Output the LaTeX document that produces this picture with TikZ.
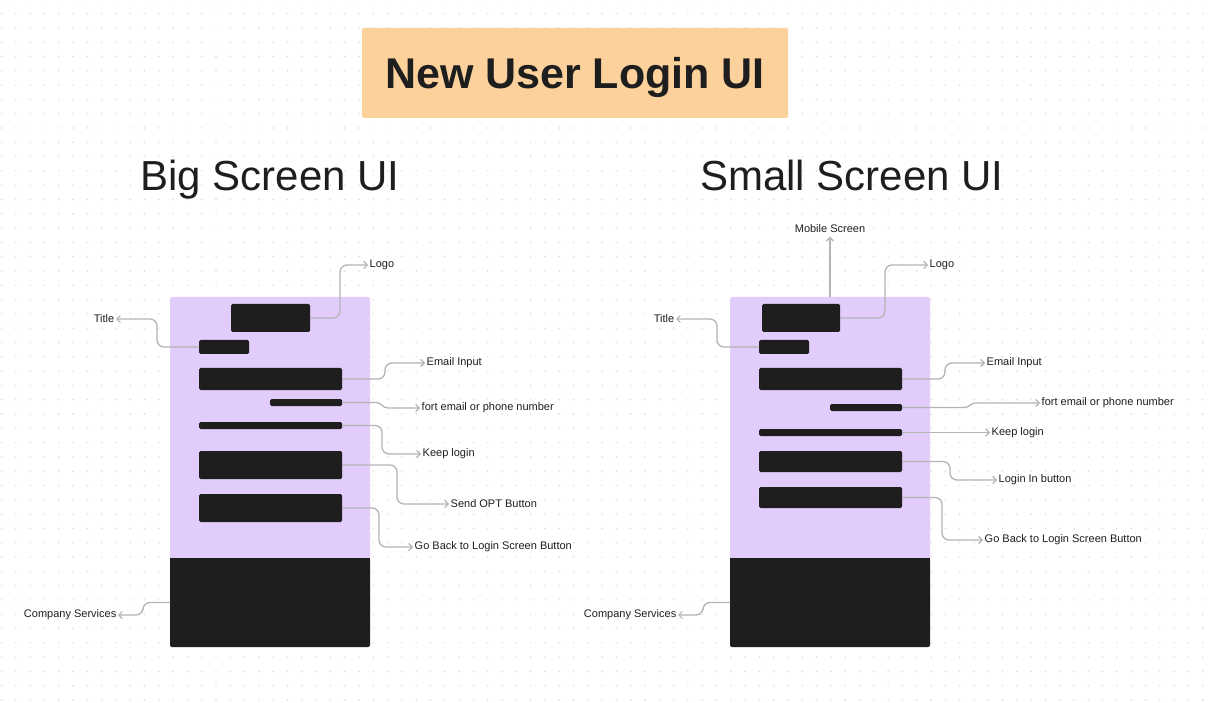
\documentclass[tikz,border=0pt]{standalone}
\usepackage{fontspec}
\setmainfont{Liberation Sans}
\usetikzlibrary{arrows.meta}
\definecolor{ink}{HTML}{1E1E1E}
\definecolor{peach}{HTML}{FCD19C}
\definecolor{lilac}{HTML}{E1CCFB}
\definecolor{wire}{HTML}{B4B4B4}
\definecolor{griddot}{HTML}{DADADA}
\tikzset{
  blk/.style={fill=ink, draw=none, rounded corners=1.5pt, inner sep=0pt, outer sep=0pt},
  panel/.style={fill=lilac, draw=none, inner sep=0pt, outer sep=0pt},
  foot/.style={fill=ink, draw=none, inner sep=0pt, outer sep=0pt},
  lbl/.style={font=\fontsize{11}{13}\selectfont, text=ink, inner sep=1.5pt},
  heading/.style={font=\fontsize{42}{48}\selectfont, text=ink, inner sep=0pt, anchor=base},
  wireline/.style={draw=wire, line width=1.3pt, rounded corners=7pt,
    -{Straight Barb[length=3.5pt,width=7pt,line width=1.2pt]}},
}
\begin{document}
\begin{tikzpicture}[x=1pt, y=-1pt]
\useasboundingbox (0,0) rectangle (1216,703);
\fill[white] (0,0) rectangle (1216,703);
% dotted canvas
\foreach \i in {0,...,85} {
  \foreach \j in {0,...,49} {
    \fill[griddot] ({1.5+14.3*\i},{13.6+14.3*(\j-1)}) circle (0.8);
  }
}

% banner
\node[fill=peach, rounded corners=2pt, minimum width=426, minimum height=90, inner sep=0pt] (banner) at (575,73) {};
\node[font=\fontsize{43}{50}\selectfont\bfseries, text=ink, inner sep=0pt, anchor=base] (bannerText) at (575,89) {New User Login UI};

% column headings
\node[heading] (hBig) at (270,191) {Big Screen UI};
\node[heading] (hSmall) at (852,191) {Small Screen UI};

% ---------------- big screen ----------------
\node[panel, minimum width=200, minimum height=262, rounded corners=2pt] (screenL) at (270,428) {};
\node[foot, minimum width=200, minimum height=89, rounded corners=2pt] (footL) at (270,602.5) {};
\fill[ink] (170,558) rectangle (370,570);

\node[blk, minimum width=79, minimum height=28] (logoL) at (270.5,318) {};
\node[blk, minimum width=50, minimum height=14] (titleL) at (224,347) {};
\node[blk, minimum width=143, minimum height=22] (emailL) at (270.5,379) {};
\node[blk, minimum width=72, minimum height=7] (fortL) at (306,402.5) {};
\node[blk, minimum width=143, minimum height=7] (keepL) at (270.5,425.5) {};
\node[blk, minimum width=143, minimum height=28] (sendL) at (270.5,465) {};
\node[blk, minimum width=143, minimum height=28] (backL) at (270.5,508) {};

\node[lbl, anchor=west] (tLogoL) at (368,265) {Logo};
\node[lbl, anchor=east] (tTitleL) at (116,319) {Title};
\node[lbl, anchor=west] (tEmailL) at (425,363) {Email Input};
\node[lbl, anchor=west] (tFortL) at (420,408) {fort email or phone number};
\node[lbl, anchor=west] (tKeepL) at (421,454) {Keep login};
\node[lbl, anchor=west] (tSendL) at (449,504) {Send OPT Button};
\node[lbl, anchor=west] (tBackL) at (413,547) {Go Back to Login Screen Button};
\node[lbl, anchor=east] (tCompL) at (118,615) {Company Services};

\draw[wireline] (logoL.east) -- ++(30,0) |- (tLogoL.west);
\draw[wireline] (titleL.west) -- ++(-42,0) |- (tTitleL.east);
\draw[wireline] (emailL.east) -- ++(43,0) |- (tEmailL.west);
\draw[wireline, sharp corners] (fortL.east) -- ++(34,0)
  .. controls +(6,0) and +(-6,0) .. ++(12,5.5) -- (tFortL.west);
\draw[wireline] (keepL.east) -- ++(40,0) |- (tKeepL.west);
\draw[wireline] (sendL.east) -- ++(55,0) |- (tSendL.west);
\draw[wireline] (backL.east) -- ++(37,0) |- (tBackL.west);
\draw[wireline] (footL.west) -- ++(-27,0) |- (tCompL.east);

% ---------------- small screen ----------------
\node[panel, minimum width=200, minimum height=262, rounded corners=2pt] (screenR) at (830,428) {};
\node[foot, minimum width=200, minimum height=89, rounded corners=2pt] (footR) at (830,602.5) {};
\fill[ink] (730,558) rectangle (930,570);

\node[blk, minimum width=78, minimum height=28] (logoR) at (801,318) {};
\node[blk, minimum width=50, minimum height=14] (titleR) at (784,347) {};
\node[blk, minimum width=143, minimum height=22] (emailR) at (830.5,379) {};
\node[blk, minimum width=72, minimum height=7] (fortR) at (866,407.5) {};
\node[blk, minimum width=143, minimum height=7] (keepR) at (830.5,432.5) {};
\node[blk, minimum width=143, minimum height=21] (loginR) at (830.5,461.5) {};
\node[blk, minimum width=143, minimum height=21] (backR) at (830.5,497.5) {};

\node[lbl] (tMobR) at (830,229) {Mobile Screen};
\node[lbl, anchor=west] (tLogoR) at (928,265) {Logo};
\node[lbl, anchor=east] (tTitleR) at (676,319) {Title};
\node[lbl, anchor=west] (tEmailR) at (985,363) {Email Input};
\node[lbl, anchor=west] (tFortR) at (1040,403) {fort email or phone number};
\node[lbl, anchor=west] (tKeepR) at (990,432.5) {Keep login};
\node[lbl, anchor=west] (tLoginR) at (997,480) {Login In button};
\node[lbl, anchor=west] (tBackR) at (983,540) {Go Back to Login Screen Button};
\node[lbl, anchor=east] (tCompR) at (678,615) {Company Services};

\draw[wireline] (screenR.north) -- ([yshift=-2pt]tMobR.south);
\draw[wireline] (logoR.east) -- ++(45,0) |- (tLogoR.west);
\draw[wireline] (titleR.west) -- ++(-42,0) |- (tTitleR.east);
\draw[wireline] (emailR.east) -- ++(43,0) |- (tEmailR.west);
\draw[wireline, sharp corners] (fortR.east) -- ++(62,0)
  .. controls +(6,0) and +(-6,0) .. ++(12,-4.5) -- (tFortR.west);
\draw[wireline] (keepR.east) -- (tKeepR.west);
\draw[wireline] (loginR.east) -- ++(48,0) |- (tLoginR.west);
\draw[wireline] (backR.east) -- ++(40,0) |- (tBackR.west);
\draw[wireline] (footR.west) -- ++(-27,0) |- (tCompR.east);
\end{tikzpicture}
\end{document}
